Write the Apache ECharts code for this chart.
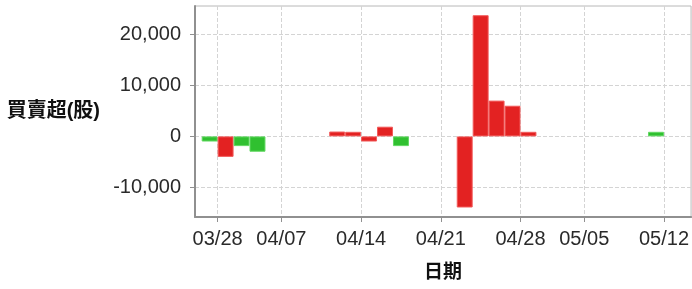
<!DOCTYPE html>
<html>
<head>
<meta charset="utf-8">
<script src="https://cdn.jsdelivr.net/npm/echarts@6/dist/echarts.min.js"></script>
<style>
  html, body { margin: 0; padding: 0; background: #fff; }
  #main { width: 692px; height: 289px; }
</style>
</head>
<body>
<div id="main"></div>
<script>
// trading days on the x axis (weekends / holidays left out)
var days = ['03/28', '03/29', '04/01', '04/02', '04/03', '04/08', '04/09', '04/10', '04/11', '04/12',
            '04/15', '04/16', '04/17', '04/18', '04/19', '04/22', '04/23', '04/24', '04/25', '04/26',
            '04/29', '04/30', '05/02', '05/03', '05/06', '05/07', '05/08', '05/09', '05/10', '05/13'];
// 買賣超 (shares), null = no bar
var netShares = [-1000, -4000, -1900, -3000, null, null, null, null, 950, 900,
                 -1000, 1900, -1900, null, null, null, -13900, 23700, 7000, 6000,
                 900, null, null, null, null, null, null, null, 900, null];
// bar colour group: r = red, g = green
var side = ['g', 'r', 'g', 'g', '', '', '', '', 'r', 'r',
            'r', 'r', 'g', '', '', '', 'r', 'r', 'r', 'r',
            'r', '', '', '', '', '', '', '', 'g', ''];
var tickLabels = ['03/28', '04/07', '04/14', '04/21', '04/28', '05/05', '05/12'];
var yTicks = [-10000, 0, 10000, 20000];

var colors = {
    r: { fill: '#e32222', border: '#f25a5a' },
    g: { fill: '#30c030', border: '#62d862' }
};

// a tick sits at the end of its day = start of the next trading day
var tickPos = tickLabels.map(function (l) {
    return days.findIndex(function (d) { return d > l; });
});

var barData = [];
days.forEach(function (d, i) {
    if (netShares[i] === null) return;
    barData.push({
        value: [i + 0.5, netShares[i]],
        itemStyle: { color: colors[side[i]].fill, borderColor: colors[side[i]].border }
    });
});

var font = '"Liberation Sans", Arial, "Noto Sans CJK TC", sans-serif';

var myChart = echarts.init(document.getElementById('main'), null, { renderer: 'canvas' });
myChart.setOption({
    animation: false,
    backgroundColor: '#fff',
    grid: { left: 195, top: 6, right: -4, bottom: 72, show: true, borderColor: '#b8b8b8', borderWidth: 1 },
    xAxis: {
        type: 'value',
        min: -0.42,
        max: 30.7,
        name: '日期',
        nameLocation: 'middle',
        nameGap: 46,
        nameTextStyle: { color: '#111', fontSize: 19, fontWeight: 'bold', fontFamily: font },
        axisLine: { onZero: false, lineStyle: { color: '#909090', width: 2 } },
        axisTick: { show: true, length: 5, customValues: tickPos, lineStyle: { color: '#909090' } },
        axisLabel: {
            customValues: tickPos,
            margin: 12,
            color: '#2a2a2a',
            fontSize: 20,
            fontFamily: font,
            formatter: function (v) { return tickLabels[tickPos.indexOf(v)]; }
        },
        splitLine: { show: true, lineStyle: { color: '#d4d4d4', type: 'dashed' } }
    },
    yAxis: {
        type: 'value',
        min: -15760,
        max: 25500,
        name: '買賣超(股)',
        nameLocation: 'middle',
        nameRotate: 0,
        nameGap: 95,
        nameTextStyle: { color: '#111', fontSize: 20, fontWeight: 'bold', fontFamily: font, padding: [6, 0, 0, 0] },
        axisLine: { show: true, onZero: false, lineStyle: { color: '#909090', width: 2 } },
        axisTick: { show: true, length: 5, customValues: yTicks, lineStyle: { color: '#909090' } },
        axisLabel: {
            customValues: yTicks,
            margin: 14,
            color: '#2a2a2a',
            fontSize: 20,
            fontFamily: font,
            formatter: function (v) { return v.toLocaleString('en-US'); }
        },
        splitLine: { show: true, lineStyle: { color: '#d4d4d4', type: 'dashed' } }
    },
    series: [
        {
            name: '買賣超',
            type: 'bar',
            barWidth: '100%',
            itemStyle: { borderWidth: 1 },
            data: barData
        }
    ]
});
</script>
</body>
</html>
